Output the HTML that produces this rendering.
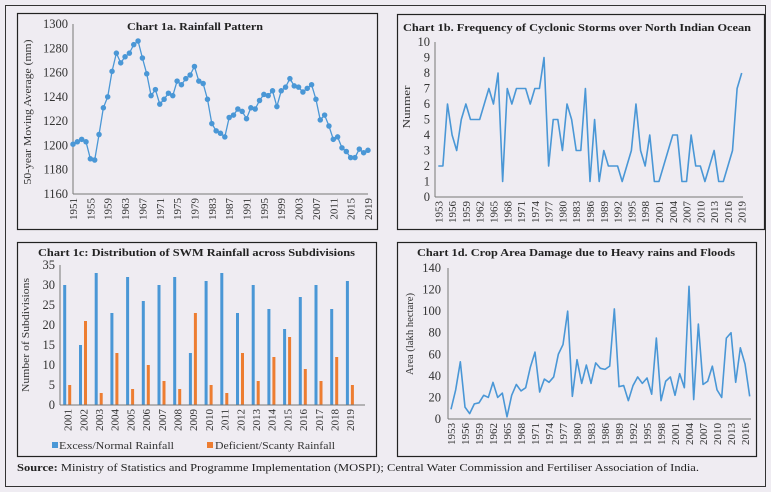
<!DOCTYPE html>
<html><head><meta charset="utf-8"><style>
html,body{margin:0;padding:0;background:#efecf2;}
svg{display:block;font-family:"Liberation Serif",serif;}
</style></head><body>
<svg width="771" height="492" viewBox="0 0 771 492" xmlns="http://www.w3.org/2000/svg">
<rect x="0" y="0" width="771" height="492" fill="#efecf2"/>
<rect x="5.5" y="5.5" width="760" height="481" fill="none" stroke="#333" stroke-width="1"/>
<g fill="none" stroke="#222" stroke-width="1.2">
<rect x="17.5" y="13.5" width="360" height="216"/>
<rect x="397.5" y="14.5" width="367" height="215"/>
<rect x="17.5" y="242.5" width="359" height="214"/>
<rect x="397.5" y="242.5" width="359" height="214"/>
</g>

<!-- Chart 1a -->
<text x="127" y="30" font-size="11" font-weight="bold" fill="#222" textLength="136" lengthAdjust="spacingAndGlyphs">Chart 1a. Rainfall Pattern</text>
<g stroke="#777" stroke-width="1"><line x1="73" y1="24" x2="73" y2="194"/><line x1="73" y1="194" x2="368" y2="194"/></g>
<g font-size="12.5" fill="#333" text-anchor="end">
<text x="68" y="198">1160</text><text x="68" y="173.7">1180</text><text x="68" y="149.4">1200</text><text x="68" y="125.1">1220</text><text x="68" y="100.9">1240</text><text x="68" y="76.6">1260</text><text x="68" y="52.3">1280</text><text x="68" y="28">1300</text>
</g>
<text transform="translate(31,112) rotate(-90)" font-size="11" text-anchor="middle" fill="#333" textLength="145" lengthAdjust="spacingAndGlyphs">50-year Moving Average (mm)</text>
<g font-size="11" fill="#333" text-anchor="end">
<text transform="translate(77,198) rotate(-90)">1951</text><text transform="translate(94.4,198) rotate(-90)">1955</text><text transform="translate(111.7,198) rotate(-90)">1959</text><text transform="translate(129.1,198) rotate(-90)">1963</text><text transform="translate(146.4,198) rotate(-90)">1967</text><text transform="translate(163.8,198) rotate(-90)">1971</text><text transform="translate(181.1,198) rotate(-90)">1975</text><text transform="translate(198.5,198) rotate(-90)">1979</text><text transform="translate(215.8,198) rotate(-90)">1983</text><text transform="translate(233.2,198) rotate(-90)">1987</text><text transform="translate(250.5,198) rotate(-90)">1991</text><text transform="translate(267.9,198) rotate(-90)">1995</text><text transform="translate(285.2,198) rotate(-90)">1999</text><text transform="translate(302.6,198) rotate(-90)">2003</text><text transform="translate(319.9,198) rotate(-90)">2007</text><text transform="translate(337.3,198) rotate(-90)">2011</text><text transform="translate(354.6,198) rotate(-90)">2015</text><text transform="translate(372,198) rotate(-90)">2019</text>
</g>
<g transform="translate(73,194) scale(4.338,-1.2143)" fill="none" stroke="#4a97d6">
<polyline vector-effect="non-scaling-stroke" stroke-width="1.3" points="0,41 1,43 2,45 3,43 4,29 5,28 6,49 7,71 8,80 9,101 10,116 11,108 12,113 13,116 14,123 15,126 16,112 17,99 18,81 19,86 20,74 21,78 22,83 23,81 24,93 25,90 26,95 27,98 28,105 29,93 30,91 31,78 32,58 33,52 34,50 35,47 36,63 37,65 38,70 39,68 40,62 41,71 42,70 43,77 44,82 45,81 46,85 47,72 48,85 49,88 50,95 51,89 52,88 53,84 54,87 55,90 56,78 57,61 58,65 59,56 60,45 61,47 62,38 63,35 64,30 65,30 66,37 67,34 68,36"/>
<path vector-effect="non-scaling-stroke" stroke-width="5.5" stroke-linecap="round" d="M0 41h0M1 43h0M2 45h0M3 43h0M4 29h0M5 28h0M6 49h0M7 71h0M8 80h0M9 101h0M10 116h0M11 108h0M12 113h0M13 116h0M14 123h0M15 126h0M16 112h0M17 99h0M18 81h0M19 86h0M20 74h0M21 78h0M22 83h0M23 81h0M24 93h0M25 90h0M26 95h0M27 98h0M28 105h0M29 93h0M30 91h0M31 78h0M32 58h0M33 52h0M34 50h0M35 47h0M36 63h0M37 65h0M38 70h0M39 68h0M40 62h0M41 71h0M42 70h0M43 77h0M44 82h0M45 81h0M46 85h0M47 72h0M48 85h0M49 88h0M50 95h0M51 89h0M52 88h0M53 84h0M54 87h0M55 90h0M56 78h0M57 61h0M58 65h0M59 56h0M60 45h0M61 47h0M62 38h0M63 35h0M64 30h0M65 30h0M66 37h0M67 34h0M68 36h0"/>
</g>

<!-- Chart 1b -->
<text x="403" y="31" font-size="11" font-weight="bold" fill="#222" textLength="348" lengthAdjust="spacingAndGlyphs">Chart 1b. Frequency of Cyclonic Storms over North Indian Ocean</text>
<g stroke="#777" stroke-width="1"><line x1="435" y1="42" x2="435" y2="197"/><line x1="435" y1="197" x2="743" y2="197"/></g>
<g font-size="12.5" fill="#333" text-anchor="end">
<text x="430" y="201">0</text><text x="430" y="185.5">1</text><text x="430" y="170">2</text><text x="430" y="154.5">3</text><text x="430" y="139">4</text><text x="430" y="123.5">5</text><text x="430" y="108">6</text><text x="430" y="92.5">7</text><text x="430" y="77">8</text><text x="430" y="61.5">9</text><text x="430" y="46">10</text>
</g>
<text transform="translate(410,107) rotate(-90)" font-size="11" text-anchor="middle" fill="#333" textLength="43" lengthAdjust="spacingAndGlyphs">Nunmer</text>
<g font-size="11" fill="#333" text-anchor="end">
<text transform="translate(442.3,201) rotate(-90)">1953</text><text transform="translate(456.1,201) rotate(-90)">1956</text><text transform="translate(469.9,201) rotate(-90)">1959</text><text transform="translate(483.7,201) rotate(-90)">1962</text><text transform="translate(497.5,201) rotate(-90)">1965</text><text transform="translate(511.3,201) rotate(-90)">1968</text><text transform="translate(525,201) rotate(-90)">1971</text><text transform="translate(538.8,201) rotate(-90)">1974</text><text transform="translate(552.6,201) rotate(-90)">1977</text><text transform="translate(566.4,201) rotate(-90)">1980</text><text transform="translate(580.2,201) rotate(-90)">1983</text><text transform="translate(594,201) rotate(-90)">1986</text><text transform="translate(607.8,201) rotate(-90)">1989</text><text transform="translate(621.6,201) rotate(-90)">1992</text><text transform="translate(635.4,201) rotate(-90)">1995</text><text transform="translate(649.2,201) rotate(-90)">1998</text><text transform="translate(663,201) rotate(-90)">2001</text><text transform="translate(676.8,201) rotate(-90)">2004</text><text transform="translate(690.6,201) rotate(-90)">2007</text><text transform="translate(704.3,201) rotate(-90)">2010</text><text transform="translate(718.1,201) rotate(-90)">2013</text><text transform="translate(731.9,201) rotate(-90)">2016</text><text transform="translate(745.7,201) rotate(-90)">2019</text>
</g>
<g transform="translate(438.3,197) scale(4.597,-15.5)" fill="none" stroke="#4a97d6">
<polyline vector-effect="non-scaling-stroke" stroke-width="1.6" stroke-linejoin="round" points="0,2 1,2 2,6 3,4 4,3 5,5 6,6 7,5 8,5 9,5 10,6 11,7 12,6 13,8 14,1 15,7 16,6 17,7 18,7 19,7 20,6 21,7 22,7 23,9 24,2 25,5 26,5 27,3 28,6 29,5 30,3 31,3 32,7 33,1 34,5 35,1 36,3 37,2 38,2 39,2 40,1 41,2 42,3 43,6 44,3 45,2 46,4 47,1 48,1 49,2 50,3 51,4 52,4 53,1 54,1 55,4 56,2 57,2 58,1 59,2 60,3 61,1 62,1 63,2 64,3 65,7 66,8"/>
</g>

<!-- Chart 1c -->
<text x="38" y="256" font-size="11" font-weight="bold" fill="#222" textLength="317" lengthAdjust="spacingAndGlyphs">Chart 1c: Distribution of SWM Rainfall across Subdivisions</text>
<g font-size="12.5" fill="#333" text-anchor="end">
<text x="55" y="409">0</text><text x="55" y="389">5</text><text x="55" y="369">10</text><text x="55" y="349">15</text><text x="55" y="329">20</text><text x="55" y="309">25</text><text x="55" y="289">30</text><text x="55" y="269">35</text>
</g>
<text transform="translate(29,335) rotate(-90)" font-size="11" text-anchor="middle" fill="#333" textLength="114" lengthAdjust="spacingAndGlyphs">Number of Subdivisions</text>
<g fill="#4a97d6">
<rect x="63.2" y="285" width="3" height="120"/><rect x="79" y="345" width="3" height="60"/><rect x="94.7" y="273" width="3" height="132"/><rect x="110.4" y="313" width="3" height="92"/><rect x="126.1" y="277" width="3" height="128"/><rect x="141.8" y="301" width="3" height="104"/><rect x="157.5" y="285" width="3" height="120"/><rect x="173.2" y="277" width="3" height="128"/><rect x="188.9" y="353" width="3" height="52"/><rect x="204.6" y="281" width="3" height="124"/><rect x="220.3" y="273" width="3" height="132"/><rect x="236" y="313" width="3" height="92"/><rect x="251.7" y="285" width="3" height="120"/><rect x="267.4" y="309" width="3" height="96"/><rect x="283.1" y="329" width="3" height="76"/><rect x="298.8" y="297" width="3" height="108"/><rect x="314.5" y="285" width="3" height="120"/><rect x="330.2" y="309" width="3" height="96"/><rect x="345.9" y="281" width="3" height="124"/>
</g>
<g fill="#ed7d31">
<rect x="68.2" y="385" width="3" height="20"/><rect x="84" y="321" width="3" height="84"/><rect x="99.7" y="393" width="3" height="12"/><rect x="115.4" y="353" width="3" height="52"/><rect x="131.1" y="389" width="3" height="16"/><rect x="146.8" y="365" width="3" height="40"/><rect x="162.5" y="381" width="3" height="24"/><rect x="178.2" y="389" width="3" height="16"/><rect x="193.9" y="313" width="3" height="92"/><rect x="209.6" y="385" width="3" height="20"/><rect x="225.3" y="393" width="3" height="12"/><rect x="241" y="353" width="3" height="52"/><rect x="256.7" y="381" width="3" height="24"/><rect x="272.4" y="357" width="3" height="48"/><rect x="288.1" y="337" width="3" height="68"/><rect x="303.8" y="369" width="3" height="36"/><rect x="319.5" y="381" width="3" height="24"/><rect x="335.2" y="357" width="3" height="48"/><rect x="350.9" y="385" width="3" height="20"/>
</g>
<g stroke="#777" stroke-width="1"><line x1="60" y1="265" x2="60" y2="405"/><line x1="60" y1="405" x2="365" y2="405"/></g>
<g font-size="11" fill="#333" text-anchor="end">
<text transform="translate(71.5,409) rotate(-90)">2001</text><text transform="translate(87.3,409) rotate(-90)">2002</text><text transform="translate(103,409) rotate(-90)">2003</text><text transform="translate(118.7,409) rotate(-90)">2004</text><text transform="translate(134.4,409) rotate(-90)">2005</text><text transform="translate(150.1,409) rotate(-90)">2006</text><text transform="translate(165.8,409) rotate(-90)">2007</text><text transform="translate(181.5,409) rotate(-90)">2008</text><text transform="translate(197.2,409) rotate(-90)">2009</text><text transform="translate(212.9,409) rotate(-90)">2010</text><text transform="translate(228.6,409) rotate(-90)">2011</text><text transform="translate(244.3,409) rotate(-90)">2012</text><text transform="translate(260,409) rotate(-90)">2013</text><text transform="translate(275.7,409) rotate(-90)">2014</text><text transform="translate(291.4,409) rotate(-90)">2015</text><text transform="translate(307.1,409) rotate(-90)">2016</text><text transform="translate(322.8,409) rotate(-90)">2017</text><text transform="translate(338.5,409) rotate(-90)">2018</text><text transform="translate(354.2,409) rotate(-90)">2019</text>
</g>
<rect x="52" y="442" width="6" height="6" fill="#4a97d6"/>
<text x="59" y="449" font-size="11" fill="#333" textLength="115" lengthAdjust="spacingAndGlyphs">Excess/Normal Rainfall</text>
<rect x="207" y="442" width="6" height="6" fill="#ed7d31"/>
<text x="215" y="449" font-size="11" fill="#333" textLength="120" lengthAdjust="spacingAndGlyphs">Deficient/Scanty Rainfall</text>

<!-- Chart 1d -->
<text x="417" y="256" font-size="11" font-weight="bold" fill="#222" textLength="318" lengthAdjust="spacingAndGlyphs">Chart 1d. Crop Area Damage due to Heavy rains and Floods</text>
<g stroke="#777" stroke-width="1"><line x1="448" y1="268" x2="448" y2="419"/><line x1="448" y1="419" x2="751" y2="419"/></g>
<g font-size="12.5" fill="#333" text-anchor="end">
<text x="441" y="423">0</text><text x="441" y="401.4">20</text><text x="441" y="379.9">40</text><text x="441" y="358.3">60</text><text x="441" y="336.7">80</text><text x="441" y="315.1">100</text><text x="441" y="293.6">120</text><text x="441" y="272">140</text>
</g>
<text transform="translate(413,334) rotate(-90)" font-size="11" text-anchor="middle" fill="#333" textLength="82" lengthAdjust="spacingAndGlyphs">Area (lakh hectare)</text>
<g font-size="11" fill="#333" text-anchor="end">
<text transform="translate(455,423) rotate(-90)">1953</text><text transform="translate(469,423) rotate(-90)">1956</text><text transform="translate(483,423) rotate(-90)">1959</text><text transform="translate(497,423) rotate(-90)">1962</text><text transform="translate(511,423) rotate(-90)">1965</text><text transform="translate(525,423) rotate(-90)">1968</text><text transform="translate(539,423) rotate(-90)">1971</text><text transform="translate(553,423) rotate(-90)">1974</text><text transform="translate(567,423) rotate(-90)">1977</text><text transform="translate(581,423) rotate(-90)">1980</text><text transform="translate(595,423) rotate(-90)">1983</text><text transform="translate(609,423) rotate(-90)">1986</text><text transform="translate(623,423) rotate(-90)">1989</text><text transform="translate(637,423) rotate(-90)">1992</text><text transform="translate(651,423) rotate(-90)">1995</text><text transform="translate(665,423) rotate(-90)">1998</text><text transform="translate(679,423) rotate(-90)">2001</text><text transform="translate(693,423) rotate(-90)">2004</text><text transform="translate(707,423) rotate(-90)">2007</text><text transform="translate(721,423) rotate(-90)">2010</text><text transform="translate(735,423) rotate(-90)">2013</text><text transform="translate(749,423) rotate(-90)">2016</text>
</g>
<g transform="translate(451,419) scale(4.667,-1.0786)" fill="none" stroke="#4a97d6">
<polyline vector-effect="non-scaling-stroke" stroke-width="1.6" stroke-linejoin="round" points="0,9 1,27 2,53 3,11 4,5 5,14 6,15 7,22 8,20 9,34 10,20 11,24 12,2 13,22 14,32 15,26 16,29 17,48 18,62 19,25 20,37 21,34 22,39 23,60 24,69 25,100 26,21 27,55 28,33 29,50 30,33 31,52 32,47 33,46 34,49 35,102 36,30 37,31 38,17 39,31 40,39 41,33 42,38 43,23 44,75 45,17 46,35 47,39 48,22 49,42 50,29 51,123 52,18 53,88 54,32 55,35 56,49 57,27 58,20 59,75 60,80 61,34 62,66 63,51 64,21"/>
</g>

<text x="17" y="471" font-size="11" fill="#222" textLength="682" lengthAdjust="spacingAndGlyphs"><tspan font-weight="bold">Source:</tspan> Ministry of Statistics and Programme Implementation (MOSPI); Central Water Commission and Fertiliser Association of India.</text>
</svg>
</body></html>
